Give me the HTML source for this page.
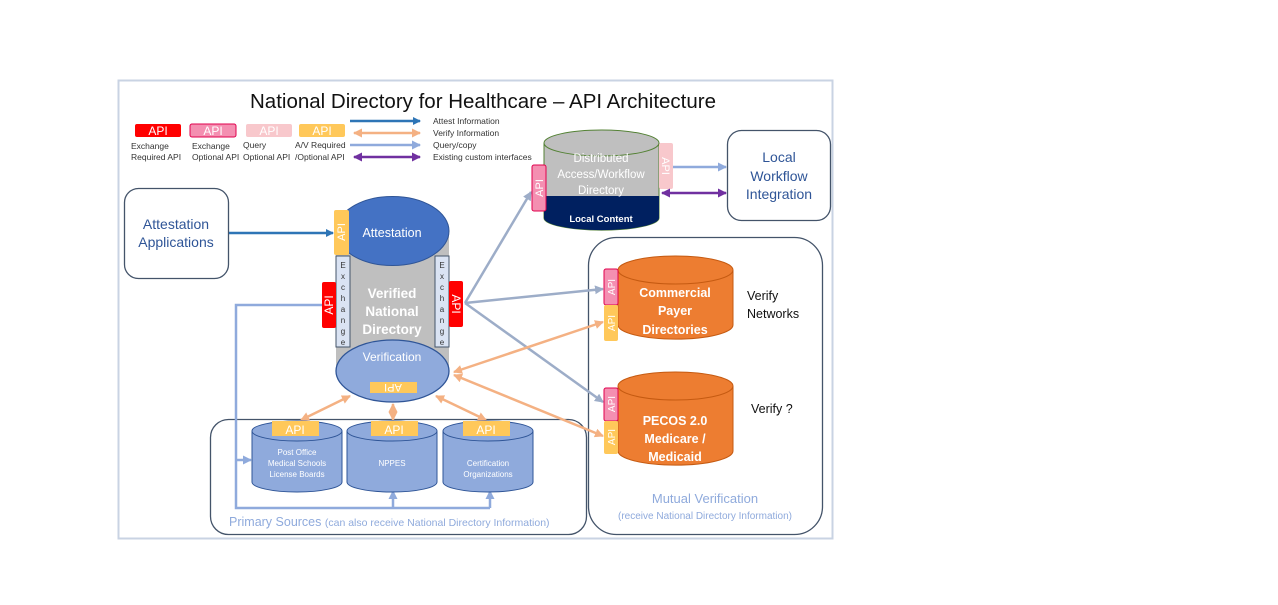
<!DOCTYPE html>
<html><head><meta charset="utf-8"><style>
html,body{margin:0;padding:0;background:#fff;}
svg{display:block;font-family:"Liberation Sans",sans-serif;}
</style></head><body>
<svg width="1278" height="605" viewBox="0 0 1278 605" xmlns="http://www.w3.org/2000/svg">
<defs>
<marker id="ab" markerWidth="8" markerHeight="8" refX="7" refY="4" orient="auto" markerUnits="userSpaceOnUse"><path d="M0,0 L8,4 L0,8z" fill="#2e75b6"/></marker>
<marker id="ag" markerWidth="9" markerHeight="9" refX="8" refY="4.5" orient="auto-start-reverse" markerUnits="userSpaceOnUse"><path d="M0,0 L9,4.5 L0,9z" fill="#9dadc8"/></marker>
<marker id="al" markerWidth="9" markerHeight="9" refX="8" refY="4.5" orient="auto-start-reverse" markerUnits="userSpaceOnUse"><path d="M0,0 L9,4.5 L0,9z" fill="#8faadc"/></marker>
<marker id="ap" markerWidth="9" markerHeight="9" refX="8" refY="4.5" orient="auto-start-reverse" markerUnits="userSpaceOnUse"><path d="M0,0 L9,4.5 L0,9z" fill="#f4b183"/></marker>
<marker id="au" markerWidth="9" markerHeight="9" refX="8" refY="4.5" orient="auto-start-reverse" markerUnits="userSpaceOnUse"><path d="M0,0 L9,4.5 L0,9z" fill="#7030a0"/></marker>
</defs>
<rect x="118.5" y="80.5" width="714" height="458" fill="#fff" stroke="#c9d3e3" stroke-width="2"/>
<text x="483" y="108" font-size="20.5" text-anchor="middle" fill="#111">National Directory for Healthcare – API Architecture</text>
<!-- legend -->
<rect x="135" y="124" width="46" height="13" rx="2" fill="#ff0000"/><text x="158" y="135" font-size="12" fill="#fff" text-anchor="middle">API</text>
<rect x="190" y="124" width="46" height="13" rx="2" fill="#f48fb1" stroke="#e0004d"/><text x="213" y="135" font-size="12" fill="#fff" text-anchor="middle">API</text>
<rect x="246" y="124" width="46" height="13" rx="2" fill="#f8c8cc"/><text x="269" y="135" font-size="12" fill="#fff" text-anchor="middle">API</text>
<rect x="299" y="124" width="46" height="13" rx="2" fill="#ffc85a"/><text x="322" y="135" font-size="12" fill="#fff" text-anchor="middle">API</text>
<g font-size="8.5" fill="#333">
<text x="131" y="149">Exchange</text><text x="131" y="160">Required API</text>
<text x="192" y="149">Exchange</text><text x="192" y="160">Optional API</text>
<text x="243" y="148">Query</text><text x="243" y="160">Optional API</text>
<text x="295" y="148">A/V Required</text><text x="295" y="160">/Optional API</text>
<text x="433" y="124">Attest  Information</text>
<text x="433" y="136">Verify Information</text>
<text x="433" y="148">Query/copy</text>
<text x="433" y="160">Existing custom interfaces</text>
</g>
<line x1="350" y1="121" x2="420" y2="121" stroke="#2e75b6" stroke-width="2.5" marker-end="url(#ab)"/>
<line x1="354" y1="133" x2="420" y2="133" stroke="#f4b183" stroke-width="2.5" marker-start="url(#ap)" marker-end="url(#ap)"/>
<line x1="350" y1="145" x2="420" y2="145" stroke="#8faadc" stroke-width="2.5" marker-end="url(#al)"/>
<line x1="354" y1="157" x2="420" y2="157" stroke="#7030a0" stroke-width="2.5" marker-start="url(#au)" marker-end="url(#au)"/>
<!-- attestation apps -->
<rect x="124.5" y="188.5" width="104" height="90" rx="14" fill="#fff" stroke="#44546a" stroke-width="1.3"/>
<text x="176" y="229" font-size="14" fill="#2f5597" text-anchor="middle">Attestation</text>
<text x="176" y="247" font-size="14" fill="#2f5597" text-anchor="middle">Applications</text>
<line x1="229" y1="233" x2="333" y2="233" stroke="#2e75b6" stroke-width="2.5" marker-end="url(#ab)"/>
<!-- primary sources box -->
<rect x="210.5" y="419.5" width="376" height="115" rx="18" fill="#fff" stroke="#44546a" stroke-width="1.3"/>
<text x="229" y="526" font-size="12.5" fill="#8faadc">Primary Sources <tspan font-size="10.5">(can also receive National Directory Information)</tspan></text>
<!-- mutual box -->
<rect x="588.5" y="237.5" width="234" height="297" rx="28" fill="#fff" stroke="#44546a" stroke-width="1.3"/>
<text x="705" y="503" font-size="13" fill="#8faadc" text-anchor="middle">Mutual Verification</text>
<text x="705" y="519" font-size="10" fill="#8faadc" text-anchor="middle">(receive National Directory Information)</text>
<!-- query lines from left red API -->
<polyline points="322,305 236,305 236,508 490,508" fill="none" stroke="#8faadc" stroke-width="2.5"/>
<line x1="236" y1="460" x2="251" y2="460" stroke="#8faadc" stroke-width="2.5" marker-end="url(#al)"/>
<line x1="393" y1="508" x2="393" y2="491" stroke="#8faadc" stroke-width="2.5" marker-end="url(#al)"/>
<line x1="490" y1="508" x2="490" y2="491" stroke="#8faadc" stroke-width="2.5" marker-end="url(#al)"/>
<!-- main cylinder -->
<rect x="336" y="231" width="113" height="140" fill="#bfbfbf"/>
<ellipse cx="392.5" cy="231" rx="56.5" ry="34.5" fill="#4472c4" stroke="#2f5597"/>
<ellipse cx="392.5" cy="371" rx="56.5" ry="31" fill="#8faadc" stroke="#2f5597" stroke-width="1.3"/>
<text x="392" y="237" font-size="12.5" fill="#fff" text-anchor="middle">Attestation</text>
<text x="392" y="298" font-size="13.5" font-weight="bold" fill="#fff" text-anchor="middle">Verified</text>
<text x="392" y="316" font-size="13.5" font-weight="bold" fill="#fff" text-anchor="middle">National</text>
<text x="392" y="334" font-size="13.5" font-weight="bold" fill="#fff" text-anchor="middle">Directory</text>
<text x="392" y="361" font-size="12" fill="#fff" text-anchor="middle">Verification</text>
<rect x="370" y="382" width="47" height="11" fill="#ffc85a"/>
<text x="0" y="0" font-size="11" fill="#fff" text-anchor="middle" transform="translate(393,384) rotate(180)">API</text>
<rect x="336" y="256" width="14" height="91" fill="#dae3f3" stroke="#44546a"/>
<rect x="435" y="256" width="14" height="91" fill="#dae3f3" stroke="#44546a"/>
<g font-size="8" fill="#333" text-anchor="middle">
<text x="343" y="268">E</text><text x="343" y="279">x</text><text x="343" y="290">c</text><text x="343" y="301">h</text><text x="343" y="312">a</text><text x="343" y="323">n</text><text x="343" y="334">g</text><text x="343" y="345">e</text>
<text x="442" y="268">E</text><text x="442" y="279">x</text><text x="442" y="290">c</text><text x="442" y="301">h</text><text x="442" y="312">a</text><text x="442" y="323">n</text><text x="442" y="334">g</text><text x="442" y="345">e</text>
</g>
<rect x="334" y="210" width="15" height="45" rx="2" fill="#ffc85a"/>
<text font-size="11" fill="#fff" text-anchor="middle" transform="translate(345,232) rotate(-90)">API</text>
<rect x="322" y="282" width="14" height="46" rx="2" fill="#ff0000"/>
<text font-size="12" fill="#fff" text-anchor="middle" transform="translate(333,305) rotate(-90)">API</text>
<rect x="449" y="281" width="14" height="46" rx="2" fill="#ff0000"/>
<text font-size="12" fill="#fff" text-anchor="middle" transform="translate(452,304) rotate(90)">API</text>
<!-- gray lines -->
<line x1="465" y1="303" x2="531" y2="192" stroke="#9dadc8" stroke-width="2.5" marker-end="url(#ag)"/>
<line x1="465" y1="303" x2="603" y2="289" stroke="#9dadc8" stroke-width="2.5" marker-end="url(#ag)"/>
<line x1="465" y1="303" x2="603" y2="402" stroke="#9dadc8" stroke-width="2.5" marker-end="url(#ag)"/>
<!-- peach lines -->
<line x1="454" y1="372" x2="603" y2="322" stroke="#f4b183" stroke-width="2.5" marker-start="url(#ap)" marker-end="url(#ap)"/>
<line x1="454" y1="375" x2="603" y2="436" stroke="#f4b183" stroke-width="2.5" marker-start="url(#ap)" marker-end="url(#ap)"/>
<line x1="350" y1="396" x2="301" y2="420" stroke="#f4b183" stroke-width="2.5" marker-start="url(#ap)" marker-end="url(#ap)"/>
<line x1="393" y1="404" x2="393" y2="420" stroke="#f4b183" stroke-width="2.5" marker-start="url(#ap)" marker-end="url(#ap)"/>
<line x1="436" y1="396" x2="486" y2="420" stroke="#f4b183" stroke-width="2.5" marker-start="url(#ap)" marker-end="url(#ap)"/>
<!-- primary cylinders -->
<g stroke="#2f5597" stroke-width="1">
<path d="M252,431 v51 a45,10 0 0 0 90,0 v-51" fill="#8faadc"/><ellipse cx="297" cy="431" rx="45" ry="10" fill="#8faadc"/>
<path d="M347,431 v51 a45,10 0 0 0 90,0 v-51" fill="#8faadc"/><ellipse cx="392" cy="431" rx="45" ry="10" fill="#8faadc"/>
<path d="M443,431 v51 a45,10 0 0 0 90,0 v-51" fill="#8faadc"/><ellipse cx="488" cy="431" rx="45" ry="10" fill="#8faadc"/>
</g>
<rect x="272" y="421" width="47" height="15" fill="#ffc85a"/><text x="295" y="434" font-size="12" fill="#fff" text-anchor="middle">API</text>
<rect x="371" y="421" width="47" height="15" fill="#ffc85a"/><text x="394" y="434" font-size="12" fill="#fff" text-anchor="middle">API</text>
<rect x="463" y="421" width="47" height="15" fill="#ffc85a"/><text x="486" y="434" font-size="12" fill="#fff" text-anchor="middle">API</text>
<g font-size="8" fill="#fff" text-anchor="middle">
<text x="297" y="455">Post Office</text><text x="297" y="466">Medical Schools</text><text x="297" y="477">License Boards</text>
<text x="392" y="466">NPPES</text>
<text x="488" y="466">Certification</text><text x="488" y="477">Organizations</text>
</g>
<!-- distributed cylinder -->
<path d="M544,143 v75 a57,12 0 0 0 115,0 v-75" fill="#bfbfbf" stroke="#548235"/>
<path d="M544,196 v22 a57,12 0 0 0 115,0 v-22 z" fill="#002060"/>
<ellipse cx="601.5" cy="143" rx="57.5" ry="13" fill="#bfbfbf" stroke="#548235"/>
<text x="601" y="162" font-size="11.5" fill="#fff" text-anchor="middle">Distributed</text>
<text x="601" y="178" font-size="11.5" fill="#fff" text-anchor="middle">Access/Workflow</text>
<text x="601" y="194" font-size="11.5" fill="#fff" text-anchor="middle">Directory</text>
<text x="601" y="222" font-size="9.5" font-weight="bold" fill="#fff" text-anchor="middle">Local Content</text>
<rect x="532" y="165" width="14" height="46" rx="2" fill="#f48fb1" stroke="#e0004d"/>
<text font-size="11" fill="#fff" text-anchor="middle" transform="translate(543,188) rotate(-90)">API</text>
<rect x="659" y="143" width="14" height="46" rx="2" fill="#f8c8cc"/>
<text font-size="11" fill="#fff" text-anchor="middle" transform="translate(662,166) rotate(90)">API</text>
<line x1="673" y1="167" x2="726" y2="167" stroke="#8faadc" stroke-width="2.5" marker-end="url(#al)"/>
<line x1="662" y1="193" x2="726" y2="193" stroke="#7030a0" stroke-width="2.5" marker-start="url(#au)" marker-end="url(#au)"/>
<rect x="727.5" y="130.5" width="103" height="90" rx="14" fill="#fff" stroke="#44546a" stroke-width="1.3"/>
<text x="779" y="162" font-size="14" fill="#2f5597" text-anchor="middle">Local</text>
<text x="779" y="181" font-size="14" fill="#2f5597" text-anchor="middle">Workflow</text>
<text x="779" y="199" font-size="14" fill="#2f5597" text-anchor="middle">Integration</text>
<!-- orange cylinders -->
<path d="M618,270 v55 a57,14 0 0 0 115,0 v-55" fill="#ed7d31" stroke="#c55a11"/>
<ellipse cx="675.5" cy="270" rx="57.5" ry="14" fill="#ed7d31" stroke="#c55a11"/>
<text x="675" y="297" font-size="12.5" font-weight="bold" fill="#fff" text-anchor="middle">Commercial</text>
<text x="675" y="315" font-size="12.5" font-weight="bold" fill="#fff" text-anchor="middle">Payer</text>
<text x="675" y="334" font-size="12.5" font-weight="bold" fill="#fff" text-anchor="middle">Directories</text>
<path d="M618,386 v65 a57,14 0 0 0 115,0 v-65" fill="#ed7d31" stroke="#c55a11"/>
<ellipse cx="675.5" cy="386" rx="57.5" ry="14" fill="#ed7d31" stroke="#c55a11"/>
<text x="675" y="425" font-size="12.5" font-weight="bold" fill="#fff" text-anchor="middle">PECOS 2.0</text>
<text x="675" y="443" font-size="12.5" font-weight="bold" fill="#fff" text-anchor="middle">Medicare /</text>
<text x="675" y="461" font-size="12.5" font-weight="bold" fill="#fff" text-anchor="middle">Medicaid</text>
<rect x="604" y="269" width="14" height="36" rx="2" fill="#f48fb1" stroke="#e0004d"/>
<text font-size="10" fill="#fff" text-anchor="middle" transform="translate(615,287) rotate(-90)">API</text>
<rect x="604" y="305" width="14" height="36" rx="2" fill="#ffc85a"/>
<text font-size="10" fill="#fff" text-anchor="middle" transform="translate(615,323) rotate(-90)">API</text>
<rect x="604" y="388" width="14" height="33" rx="2" fill="#f48fb1" stroke="#e0004d"/>
<text font-size="10" fill="#fff" text-anchor="middle" transform="translate(615,404) rotate(-90)">API</text>
<rect x="604" y="421" width="14" height="33" rx="2" fill="#ffc85a"/>
<text font-size="10" fill="#fff" text-anchor="middle" transform="translate(615,437) rotate(-90)">API</text>
<text x="747" y="300" font-size="12.5" fill="#111">Verify</text>
<text x="747" y="318" font-size="12.5" fill="#111">Networks</text>
<text x="751" y="413" font-size="12.5" fill="#111">Verify ?</text>
</svg>
</body></html>
